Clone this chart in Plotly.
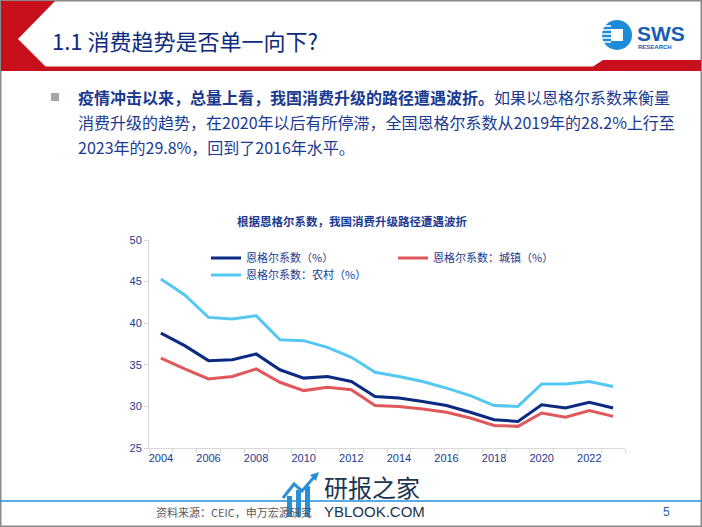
import plotly.graph_objects as go

# ---------------- data ----------------
years = list(range(2004, 2024))
engel_national = [38.8, 37.3, 35.5, 35.6, 36.3, 34.4, 33.4, 33.6, 33.0, 31.2,
                  31.0, 30.6, 30.1, 29.3, 28.4, 28.2, 30.2, 29.8, 30.5, 29.8]
engel_urban = [35.8, 34.5, 33.3, 33.6, 34.5, 32.9, 31.9, 32.3, 32.0, 30.1,
               30.0, 29.7, 29.3, 28.6, 27.7, 27.6, 29.2, 28.7, 29.5, 28.8]
engel_rural = [45.3, 43.4, 40.7, 40.5, 40.9, 38.0, 37.9, 37.1, 35.9, 34.1,
               33.6, 33.0, 32.2, 31.3, 30.1, 30.0, 32.7, 32.7, 33.0, 32.4]
series_names = ["恩格尔系数（%）", "恩格尔系数：城镇（%）", "恩格尔系数：农村（%）"]
x_tick_labels = [2004, 2006, 2008, 2010, 2012, 2014, 2016, 2018, 2020, 2022]

# ---------------- layout geometry (pixels) ----------------
W, H = 702, 527
L, R, T, B = 149, 625, 240, 448


def X(px):
    return (px - L) / (R - L)


def Y(py):
    return (B - py) / (B - T)


CJK = "Noto Sans CJK SC"
NAVY = "#0B2A82"
RED = "#E0585B"
SKY = "#55C8F2"
TXT = "#1A3A8F"

fig = go.Figure()
fig.add_trace(go.Scatter(x=years, y=engel_national, name=series_names[0], mode="lines",
                         line=dict(color=NAVY, width=3), legend="legend"))
fig.add_trace(go.Scatter(x=years, y=engel_urban, name=series_names[1], mode="lines",
                         line=dict(color=RED, width=3), legend="legend2"))
fig.add_trace(go.Scatter(x=years, y=engel_rural, name=series_names[2], mode="lines",
                         line=dict(color=SKY, width=3), legend="legend3"))

shapes = []
annotations = []

# slide border
shapes.append(dict(type="rect", xref="paper", yref="paper", x0=X(0.75), x1=X(701.25), y0=Y(0.75), y1=Y(526.25),
                   line=dict(color="#8a8a8a", width=1.5), fillcolor="rgba(0,0,0,0)", layer="below"))


def path(points):
    s = "M " + " L ".join(f"{X(a):.5f},{Y(b):.5f}" for a, b in points) + " Z"
    return s


# header red chevron and bar
shapes.append(dict(type="path", xref="paper", yref="paper",
                   path=path([(1, 1), (55, 1), (18, 39), (46, 67), (46, 71), (1, 71)]),
                   fillcolor="#C8101C", line=dict(width=0), layer="below"))
shapes.append(dict(type="path", xref="paper", yref="paper",
                   path=path([(40, 66.5), (593, 66.5), (603, 60), (701, 60), (701, 71), (40, 71)]),
                   fillcolor="#C8101C", line=dict(width=0), layer="below"))

annotations.append(dict(text="1.1 消费趋势是否单一向下?", x=X(50), y=Y(40), xref="paper", yref="paper",
                        xanchor="left", yanchor="middle", showarrow=False,
                        font=dict(family=CJK, size=22, color="#0D2B7C")))

# logo
shapes.append(dict(type="circle", xref="paper", yref="paper", x0=X(602), x1=X(632), y0=Y(20), y1=Y(50),
                   fillcolor="#1E8BD8", line=dict(width=0)))
for yy in [26, 30, 34, 38, 42]:
    shapes.append(dict(type="line", xref="paper", yref="paper", x0=X(602), x1=X(611), y0=Y(yy), y1=Y(yy),
                       line=dict(color="white", width=1.5)))
shapes.append(dict(type="rect", xref="paper", yref="paper", x0=X(611), x1=X(623), y0=Y(29), y1=Y(41),
                   fillcolor="white", line=dict(width=0)))
annotations.append(dict(text="<b>SWS</b>", x=X(661), y=Y(33), xref="paper", yref="paper",
                        xanchor="center", yanchor="middle", showarrow=False,
                        font=dict(family="Liberation Sans", size=21, color="#1A5DB5")))
annotations.append(dict(text="<b>RESEARCH</b>", x=X(655), y=Y(46.5), xref="paper", yref="paper",
                        xanchor="center", yanchor="middle", showarrow=False,
                        font=dict(family="Liberation Sans", size=6, color="#1A5DB5")))

# bullet + paragraph
shapes.append(dict(type="rect", xref="paper", yref="paper", x0=X(51), x1=X(59), y0=Y(93), y1=Y(101),
                   fillcolor="#A6A6A6", line=dict(width=0)))
para = [
    "<b>疫情冲击以来，总量上看，我国消费升级的路径遭遇波折。</b>如果以恩格尔系数来衡量",
    "消费升级的趋势，在2020年以后有所停滞，全国恩格尔系数从2019年的28.2%上行至",
    "2023年的29.8%，回到了2016年水平。",
]
for i, line in enumerate(para):
    annotations.append(dict(text=line, x=X(76), y=Y(97 + 25 * i), xref="paper", yref="paper",
                            xanchor="left", yanchor="middle", showarrow=False,
                            font=dict(family=CJK, size=16, color=TXT)))

# chart title
annotations.append(dict(text="<b>根据恩格尔系数，我国消费升级路径遭遇波折</b>", x=X(352), y=Y(221),
                        xref="paper", yref="paper", xanchor="center", yanchor="middle", showarrow=False,
                        font=dict(family=CJK, size=11.5, color=TXT)))

# footer
shapes.append(dict(type="line", xref="paper", yref="paper", x0=X(0), x1=X(702), y0=Y(501), y1=Y(501),
                   line=dict(color="#1E90DA", width=1.5)))
annotations.append(dict(text="资料来源：CEIC，申万宏源研究", x=X(154), y=Y(512), xref="paper", yref="paper",
                        xanchor="left", yanchor="middle", showarrow=False,
                        font=dict(family=CJK, size=11, color="#595959")))
annotations.append(dict(text="5", x=X(666), y=Y(512), xref="paper", yref="paper",
                        xanchor="center", yanchor="middle", showarrow=False,
                        font=dict(family="Liberation Sans", size=12, color="#1A5DB5")))

# watermark
WM = "#2B8FD6"
for (x0, x1, ytop) in [(287, 292, 496), (296, 301, 490), (305, 310, 486)]:
    shapes.append(dict(type="rect", xref="paper", yref="paper", x0=X(x0), x1=X(x1), y0=Y(ytop), y1=Y(517),
                       fillcolor=WM, line=dict(width=0), layer="above"))
shapes.append(dict(type="path", xref="paper", yref="paper",
                   path="M " + " L ".join(f"{X(a):.5f},{Y(b):.5f}" for a, b in
                                          [(283, 498), (294, 484), (302, 491), (315, 476)]),
                   line=dict(color=WM, width=3), fillcolor="rgba(0,0,0,0)", layer="above"))
shapes.append(dict(type="path", xref="paper", yref="paper",
                   path=path([(319, 472), (310, 475), (316, 481)]),
                   fillcolor=WM, line=dict(width=0), layer="above"))
annotations.append(dict(text="研报之家", x=X(322), y=Y(486), xref="paper", yref="paper",
                        xanchor="left", yanchor="middle", showarrow=False,
                        font=dict(family=CJK, size=24, color="#1C3550")))
annotations.append(dict(text="YBLOOK.COM", x=X(322), y=Y(511), xref="paper", yref="paper",
                        xanchor="left", yanchor="middle", showarrow=False,
                        font=dict(family="Liberation Sans", size=15, color="#1C3550")))

legend_common = dict(xref="paper", yref="paper", xanchor="left", yanchor="middle",
                     orientation="v", bgcolor="rgba(0,0,0,0)", borderwidth=0,
                     font=dict(family=CJK, size=11, color=TXT))

fig.update_layout(
    width=W, height=H,
    margin=dict(l=L, r=W - R, t=T, b=H - B, pad=0),
    paper_bgcolor="white", plot_bgcolor="white",
    shapes=shapes, annotations=annotations,
    showlegend=True,
    legend=dict(x=X(206), y=Y(258), **legend_common),
    legend2=dict(x=X(393), y=Y(258), **legend_common),
    legend3=dict(x=X(206), y=Y(275), **legend_common),
    xaxis=dict(range=[2003.5, 2023.5], tickmode="array", tickvals=x_tick_labels,
               ticktext=[str(v) for v in x_tick_labels], ticks="", showgrid=False, zeroline=False,
               showline=True, linecolor="#D9D9D9", linewidth=1,
               tickfont=dict(family="Liberation Sans", size=11, color=TXT),
               minor=dict(tickmode="array", tickvals=[y - 0.5 for y in years] + [years[-1] + 0.5],
                          ticks="outside", ticklen=4, tickcolor="#D9D9D9", showgrid=False)),
    yaxis=dict(range=[25, 50], dtick=5, tick0=25, ticks="outside", ticklen=4, tickcolor="#D9D9D9",
               showgrid=False, zeroline=False, showline=True, linecolor="#D9D9D9", linewidth=1,
               tickfont=dict(family="Liberation Sans", size=11, color=TXT)),
)

fig.write_html("out.html", config={"displayModeBar": False},
               post_script="document.body.style.margin='0px';document.body.style.overflow='hidden';")
